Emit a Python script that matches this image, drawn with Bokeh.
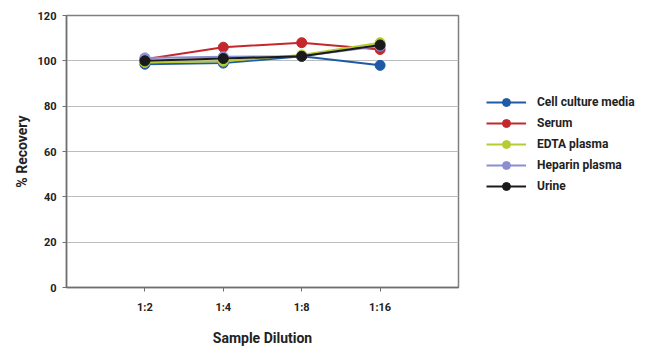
from bokeh.plotting import figure
from bokeh.layouts import row
from bokeh.models import FactorRange, Legend, LegendItem, FixedTicker, Range1d
from bokeh.embed import file_html
from bokeh.resources import INLINE

categories = ["1:2", "1:4", "1:8", "1:16"]
cell_culture = [98.5, 99, 102, 98]
serum = [100.7, 106, 108, 105]
edta = [99.3, 99.8, 102.6, 108]
heparin = [101.3, 101.8, 102, 106.5]
urine = [100, 101, 102, 107]
series_names = ["Cell culture media", "Serum", "EDTA plasma", "Heparin plasma", "Urine"]
series_values = [cell_culture, serum, edta, heparin, urine]
colors = ["#1f5aa6", "#c4282d", "#b6cc30", "#8b8fd2", "#1a1a1a"]

FONT = "Roboto"

p = figure(width=460, height=355, output_backend="svg", toolbar_location=None,
           x_range=FactorRange(factors=categories, range_padding=0.25, range_padding_units="percent"),
           y_range=Range1d(0, 120),
           min_border_left=66, min_border_right=2, min_border_top=15, min_border_bottom=68)

p.outline_line_color = "#7f7f7f"
p.outline_line_width = 1.5
p.background_fill_color = "white"
p.border_fill_color = "white"

p.xgrid.grid_line_color = None
p.ygrid.grid_line_color = "#bdbdbd"
p.ygrid.grid_line_width = 1.2
p.yaxis.ticker = FixedTicker(ticks=[0, 20, 40, 60, 80, 100, 120])
p.yaxis.minor_tick_line_color = None

for ax in (p.xaxis[0], p.yaxis[0]):
    ax.axis_line_color = "#6f6f6f"
    ax.axis_line_width = 1.5
    ax.major_tick_line_color = "#6f6f6f"
    ax.major_tick_out = 4
    ax.major_tick_in = 0
    ax.major_label_text_font = FONT
    ax.major_label_text_font_style = "bold"
    ax.major_label_text_font_size = "11px"
    ax.major_label_text_color = "#222222"
    ax.axis_label_text_font = FONT
    ax.axis_label_text_font_style = "bold"
    ax.axis_label_text_font_size = "14px"
    ax.axis_label_text_color = "#222222"

p.yaxis.axis_label = "% Recovery"
p.xaxis.axis_label = "Sample Dilution"
p.xaxis.major_label_standoff = 9
p.xaxis.axis_label_standoff = 13
p.yaxis.major_label_standoff = 6
p.yaxis.axis_label_standoff = 5

for vals, c in zip(series_values, colors):
    p.line(categories, vals, line_color=c, line_width=2)
    p.scatter(categories, vals, size=10, fill_color=c, line_color=c)

# Legend panel (its renderers fall outside its own visible range)
q = figure(width=190, height=355, output_backend="svg", toolbar_location=None,
           x_range=FactorRange(factors=categories), y_range=Range1d(0, 1),
           min_border_left=0, min_border_right=0, min_border_top=0, min_border_bottom=0)
q.axis.visible = False
q.grid.visible = False
q.outline_line_color = None
q.background_fill_color = "white"
q.border_fill_color = "white"

items = []
for name, vals, c in zip(series_names, series_values, colors):
    l = q.line(categories, vals, line_color=c, line_width=2)
    s = q.scatter(categories, vals, size=7, fill_color=c, line_color=c)
    items.append(LegendItem(label=name, renderers=[l, s]))

legend = Legend(items=items, location=(26, 91), border_line_color=None,
                background_fill_alpha=0,
                label_text_font=FONT, label_text_font_style="bold",
                label_text_font_size="12px", label_text_color="#222222",
                glyph_width=40, glyph_height=20, label_standoff=11, spacing=1,
                padding=6, margin=0)
q.add_layout(legend, "center")

layout = row(p, q, spacing=0)
open("out.html", "w").write(file_html(layout, INLINE))
